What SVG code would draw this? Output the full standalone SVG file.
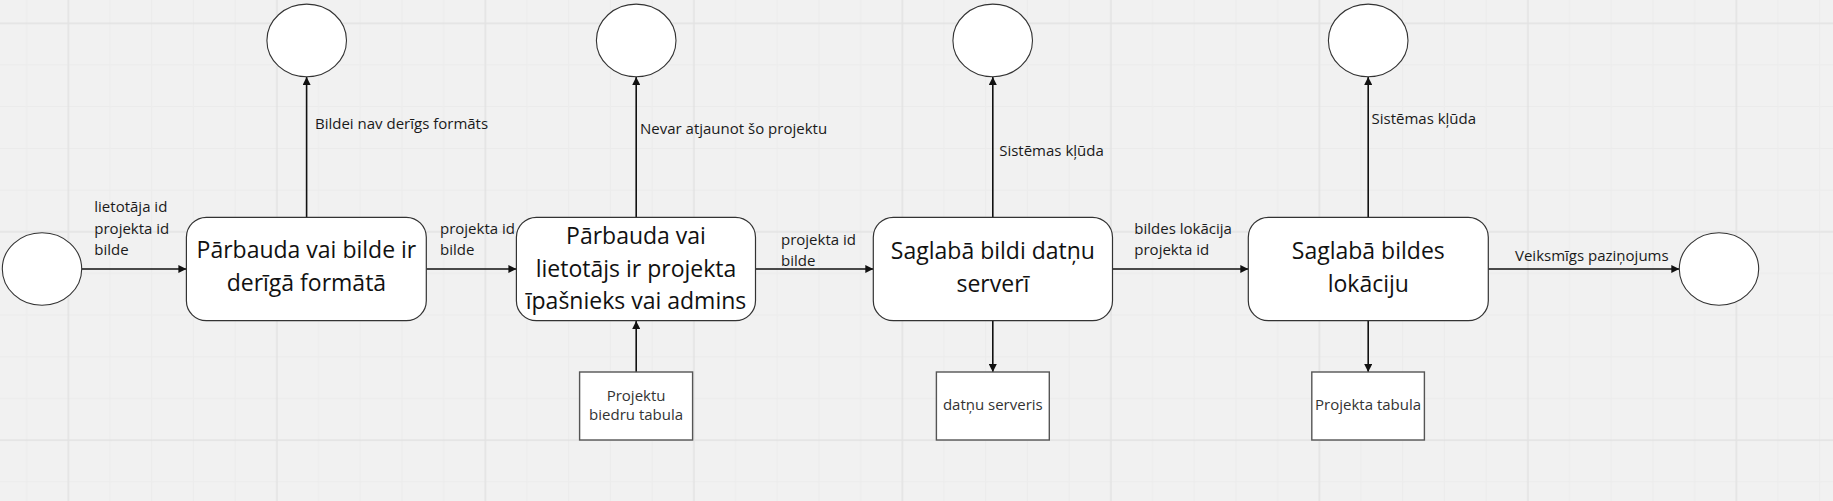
<svg xmlns="http://www.w3.org/2000/svg" width="1833" height="501" viewBox="0 0 1833 501">
<defs>
<pattern id="grid" x="68.3" y="23.3" width="208.5" height="208.4" patternUnits="userSpaceOnUse">
<rect x="41.2" y="0" width="1" height="208.4" fill="#ebebeb"/>
<rect x="82.9" y="0" width="1" height="208.4" fill="#ebebeb"/>
<rect x="124.6" y="0" width="1" height="208.4" fill="#ebebeb"/>
<rect x="166.3" y="0" width="1" height="208.4" fill="#ebebeb"/>
<rect x="0" y="41.2" width="208.5" height="1" fill="#ebebeb"/>
<rect x="0" y="82.9" width="208.5" height="1" fill="#ebebeb"/>
<rect x="0" y="124.6" width="208.5" height="1" fill="#ebebeb"/>
<rect x="0" y="166.3" width="208.5" height="1" fill="#ebebeb"/>
<rect x="-0.6" y="0" width="1.4" height="208.4" fill="#e1e1e1"/>
<rect x="0" y="-0.6" width="208.5" height="1.4" fill="#e1e1e1"/>
<rect x="207.9" y="0" width="1.4" height="208.4" fill="#e1e1e1"/>
<rect x="0" y="207.8" width="208.5" height="1.4" fill="#e1e1e1"/>
</pattern>
<marker id="arr" viewBox="0 0 10 10" refX="10" refY="5" markerWidth="9" markerHeight="8" markerUnits="userSpaceOnUse" orient="auto">
<path d="M0,0 L10,5 L0,10 z" fill="#111"/>
</marker>
<style>
.proc{fill:#fff;stroke:#333;stroke-width:1.2}
.term{fill:#fff;stroke:#333;stroke-width:1.1}
.store{fill:#fff;stroke:#555;stroke-width:1.4}
.conn{stroke:#111;stroke-width:1.6;fill:none;marker-end:url(#arr)}
.big{font-family:"Open Sans","Liberation Sans",sans-serif;font-size:23px;fill:#111;text-anchor:middle}
.lbl{font-family:"Open Sans","Liberation Sans",sans-serif;font-size:15px;fill:#1a1a1a}
.st{font-family:"Open Sans","Liberation Sans",sans-serif;font-size:15px;fill:#333;text-anchor:middle}
</style>
</defs>
<rect x="0" y="0" width="1833" height="501" fill="#f1f1f1"/>
<rect x="0" y="0" width="1833" height="501" fill="url(#grid)"/>

<g id="connectors">
<line class="conn" x1="82" y1="269" x2="186.4" y2="269"/>
<line class="conn" x1="306.6" y1="217" x2="306.6" y2="77"/>
<line class="conn" x1="426.3" y1="269" x2="516.4" y2="269"/>
<line class="conn" x1="636.2" y1="217" x2="636.2" y2="77"/>
<line class="conn" x1="636.2" y1="372" x2="636.2" y2="321"/>
<line class="conn" x1="755.5" y1="269" x2="873.3" y2="269"/>
<line class="conn" x1="992.8" y1="217" x2="992.8" y2="77"/>
<line class="conn" x1="992.8" y1="321" x2="992.8" y2="372"/>
<line class="conn" x1="1112.5" y1="269" x2="1248.3" y2="269"/>
<line class="conn" x1="1368.2" y1="217" x2="1368.2" y2="77"/>
<line class="conn" x1="1368.2" y1="321" x2="1368.2" y2="372"/>
<line class="conn" x1="1488.3" y1="269" x2="1679.3" y2="269"/>
<text class="lbl" x="94.3" y="212.3">lietotāja id</text>
<text class="lbl" x="94.3" y="234">projekta id</text>
<text class="lbl" x="94.3" y="255.3">bilde</text>
<text class="lbl" x="315" y="129.3">Bildei nav derīgs formāts</text>
<text class="lbl" x="440" y="234">projekta id</text>
<text class="lbl" x="440" y="255.3">bilde</text>
<text class="lbl" x="640" y="134.3">Nevar atjaunot šo projektu</text>
<text class="lbl" x="781" y="244.5">projekta id</text>
<text class="lbl" x="781" y="266">bilde</text>
<text class="lbl" x="999.2" y="156">Sistēmas kļūda</text>
<text class="lbl" x="1134.3" y="234">bildes lokācija</text>
<text class="lbl" x="1134.3" y="255.3">projekta id</text>
<text class="lbl" x="1371.5" y="123.5">Sistēmas kļūda</text>
<text class="lbl" x="1515" y="260.5">Veiksmīgs paziņojums</text>
</g>

<g id="start"><ellipse class="term" cx="42" cy="269" rx="39.7" ry="36.3"/></g>
<g id="end"><ellipse class="term" cx="1719" cy="269" rx="39.7" ry="36.3"/></g>
<g id="err1"><ellipse class="term" cx="306.7" cy="40.4" rx="39.8" ry="36.3"/></g>
<g id="err2"><ellipse class="term" cx="636.2" cy="40.4" rx="39.8" ry="36.3"/></g>
<g id="err3"><ellipse class="term" cx="992.7" cy="40.4" rx="39.8" ry="36.3"/></g>
<g id="err4"><ellipse class="term" cx="1368.2" cy="40.4" rx="39.8" ry="36.3"/></g>

<g id="p1">
<rect class="proc" x="186.4" y="217.3" width="239.9" height="103.4" rx="20"/>
<text class="big" x="306.4" y="258">Pārbauda vai bilde ir</text>
<text class="big" x="306.4" y="291">derīgā formātā</text>
</g>
<g id="p2">
<rect class="proc" x="516.4" y="217.3" width="239.1" height="103.4" rx="20"/>
<text class="big" x="636" y="244.3">Pārbauda vai</text>
<text class="big" x="636" y="276.7">lietotājs ir projekta</text>
<text class="big" x="636" y="309">īpašnieks vai admins</text>
</g>
<g id="p3">
<rect class="proc" x="873.3" y="217.3" width="239.2" height="103.4" rx="20"/>
<text class="big" x="992.9" y="258.5">Saglabā bildi datņu</text>
<text class="big" x="992.9" y="291.5">serverī</text>
</g>
<g id="p4">
<rect class="proc" x="1248.3" y="217.3" width="240" height="103.4" rx="20"/>
<text class="big" x="1368.3" y="258.5">Saglabā bildes</text>
<text class="big" x="1368.3" y="291.5">lokāciju</text>
</g>

<g id="s1">
<rect class="store" x="579.6" y="372" width="113" height="68"/>
<text class="st" x="636.1" y="400.7">Projektu</text>
<text class="st" x="636.1" y="420">biedru tabula</text>
</g>
<g id="s2">
<rect class="store" x="936.4" y="372" width="112.9" height="68"/>
<text class="st" x="992.8" y="410">datņu serveris</text>
</g>
<g id="s3">
<rect class="store" x="1311.8" y="372" width="112.6" height="68"/>
<text class="st" x="1368.1" y="410">Projekta tabula</text>
</g>
</svg>
